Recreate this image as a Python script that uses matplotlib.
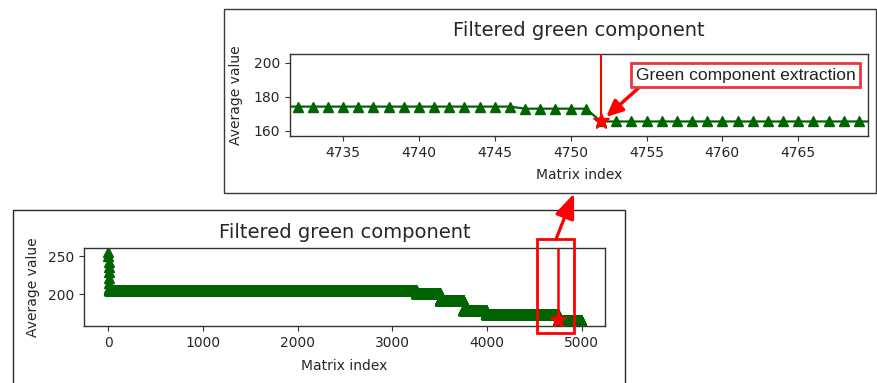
import numpy as np
import matplotlib
matplotlib.use("Agg")
import matplotlib.pyplot as plt
from matplotlib.patches import Rectangle, FancyArrowPatch

# ---------------- data ----------------
start_values = [256, 250, 243, 236, 229, 222, 215, 209]      # indices 0..7
level_starts = [8, 3250, 3500, 3750, 3990, 4747, 4752]         # first index of each level
level_values = [206, 202, 192, 179, 174.2, 173.0, 165.5]       # average value of each level
last_index = 4995
marked_index = 4752

title_text = "Filtered green component"
xlabel_text = "Matrix index"
ylabel_text = "Average value"
annotation_text = "Green component extraction"
top_xticks = [4735, 4740, 4745, 4750, 4755, 4760, 4765]
top_yticks = [160, 180, 200]
bottom_xticks = [0, 1000, 2000, 3000, 4000, 5000]
bottom_yticks = [200, 250]

# ---------------- build the step series ----------------
index = np.arange(last_index + 1)
values = np.empty(len(index), dtype=float)
values[:len(start_values)] = start_values
bounds = level_starts + [last_index + 1]
for s, e, v in zip(bounds[:-1], bounds[1:], level_values):
    values[s:e] = v
marked_value = values[marked_index]

# ---------------- figure / layout helpers ----------------
W, H = 878, 383
DPI = 100
fig = plt.figure(figsize=(W / DPI, H / DPI), dpi=DPI)
fig.patch.set_facecolor("white")


def rect(l, t, r, b):
    return [l / W, 1 - b / H, (r - l) / W, (b - t) / H]


def fpt(x, y):
    return (x / W, 1 - y / H)


GREEN = "#006400"
RED = "#ff0000"
TXT = "#262626"


def style(ax):
    for sp in ax.spines.values():
        sp.set_color("#333333")
        sp.set_linewidth(1.0)
    ax.tick_params(colors="#333333", labelcolor=TXT, labelsize=10)


# ---------------- top (zoomed) panel ----------------
ax1 = fig.add_axes(rect(290, 54, 868, 136))
ax1.plot(index, values, color=GREEN, marker="^", markersize=6.5, linewidth=1.6)
ax1.set_xlim(4731.5, 4769.6)
ax1.set_ylim(157, 205)
ax1.set_xticks(top_xticks)
ax1.set_yticks(top_yticks)
ax1.vlines(marked_index, marked_value, 205, color=RED, linewidth=1.5, zorder=4)
ax1.plot([marked_index], [marked_value], marker="*", color=RED, markersize=12,
         linestyle="none", zorder=5)
ax1.set_title(title_text, fontsize=14, color=TXT, pad=13)
ax1.set_xlabel(xlabel_text, fontsize=10, color=TXT, labelpad=6)
ax1.set_ylabel(ylabel_text, fontsize=10, color=TXT, labelpad=8)
style(ax1)
ax1.annotate(annotation_text, xy=(marked_index, marked_value),
             xytext=(0.788, 0.74), textcoords="axes fraction",
             ha="center", va="center", fontsize=12.5, color="#222222",
             family=["Liberation Sans", "DejaVu Sans"],
             bbox=dict(boxstyle="square,pad=0.25", fc="white", ec="#e8383d", lw=2),
             arrowprops=dict(arrowstyle="-|>,head_length=0.65,head_width=0.3",
                             color=RED, lw=2.5, mutation_scale=15,
                             relpos=(0.04, 0.0), shrinkA=0, shrinkB=5),
             zorder=6)

# ---------------- bottom (overview) panel ----------------
ax2 = fig.add_axes(rect(84, 248, 605, 326))
ax2.plot(index, values, color=GREEN, marker="^", markersize=7.2, linewidth=1.6)
ax2.set_xlim(-257, 5246)
ax2.set_ylim(158.2, 261.2)
ax2.set_xticks(bottom_xticks)
ax2.set_yticks(bottom_yticks)
ax2.vlines(marked_index, marked_value, 261.2, color=RED, linewidth=1.8, zorder=4)
ax2.plot([marked_index], [marked_value], marker="*", color=RED, markersize=12,
         linestyle="none", zorder=5)
ax2.set_title(title_text, fontsize=14, color=TXT, pad=7)
ax2.set_xlabel(xlabel_text, fontsize=10, color=TXT, labelpad=7)
ax2.set_ylabel(ylabel_text, fontsize=10, color=TXT, labelpad=6)
style(ax2)

# highlight box around the zoomed region in the overview
zoom_box = Rectangle(fpt(537.3, 333), (574.3 - 537.3) / W, (333 - 239) / H,
                     transform=fig.transFigure, fill=False, edgecolor=RED,
                     linewidth=2.0, zorder=10)
fig.add_artist(zoom_box)

# frames around the two chart images
top_frame = Rectangle(fpt(224, 193), (876 - 224) / W, (193 - 9) / H,
                      transform=fig.transFigure, fill=False,
                      edgecolor="#3a3a3a", linewidth=1.0)
bottom_frame = Rectangle(fpt(12.7, 400), (625 - 12.7) / W, (400 - 210.3) / H,
                         transform=fig.transFigure, fill=False,
                         edgecolor="#2a2a2a", linewidth=1.0)
fig.add_artist(top_frame)
fig.add_artist(bottom_frame)

# connecting arrow from the highlight box to the zoomed panel
link = FancyArrowPatch(fpt(556, 239.3), fpt(574, 193.5),
                       transform=fig.transFigure,
                       arrowstyle="-|>,head_length=0.75,head_width=0.3",
                       mutation_scale=20, color=RED, linewidth=2.3,
                       shrinkA=0, shrinkB=0, zorder=11)
fig.add_artist(link)

fig.savefig("out.png", dpi=DPI, facecolor="white")
